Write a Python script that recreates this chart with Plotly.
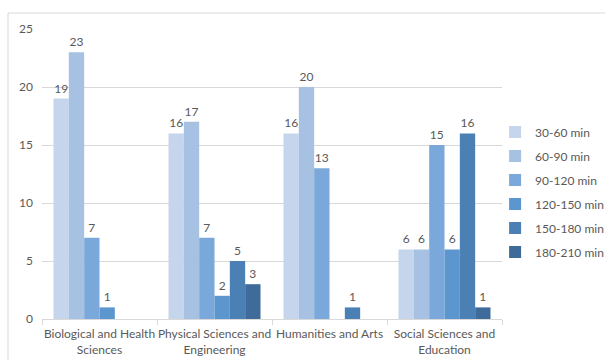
import plotly.graph_objects as go

categories = [
    "Biological and Health<br>Sciences",
    "Physical Sciences and<br>Engineering",
    "Humanities and Arts",
    "Social Sciences and<br>Education",
]
series_names = ["30-60 min", "60-90 min", "90-120 min", "120-150 min", "150-180 min", "180-210 min"]
v_30_60 = [19, 16, 16, 6]
v_60_90 = [23, 17, 20, 6]
v_90_120 = [7, 7, 13, 15]
v_120_150 = [1, 2, 0, 6]
v_150_180 = [0, 5, 1, 16]
v_180_210 = [0, 3, 0, 1]
series_values = [v_30_60, v_60_90, v_90_120, v_120_150, v_150_180, v_180_210]
colors = ["#c5d5eb", "#a7c1e2", "#7ba8da", "#5b96cf", "#4b80b4", "#3e6b99"]

FONT = "Lato"
GREY = "#595959"

fig = go.Figure()
for i, (name, vals, col) in enumerate(zip(series_names, series_values, colors)):
    fig.add_trace(go.Bar(
        x=categories, y=vals, name=name,
        marker=dict(color=col, line=dict(width=0)),
        text=[str(v) if v else "" for v in vals],
        textposition="outside", cliponaxis=False,
        textfont=dict(family=FONT, size=12, color=GREY),
        legendgroup=f"g{i}",
    ))

fig.update_layout(
    width=605, height=360,
    margin=dict(l=42, r=103, t=29, b=41, autoexpand=False),
    paper_bgcolor="white", plot_bgcolor="white",
    barmode="group", bargap=0.2, bargroupgap=0,
    font=dict(family=FONT, size=12, color=GREY),
    showlegend=True,
    legend=dict(
        x=0.985, xanchor="left", y=0.695, yanchor="top",
        font=dict(family=FONT, size=12, color=GREY),
        tracegroupgap=5, itemwidth=30,
        bgcolor="rgba(0,0,0,0)",
    ),
    xaxis=dict(
        automargin=False, tickangle=0,
        showline=True, linecolor="#d9d9d9", linewidth=1,
        ticks="outside", tickson="boundaries", ticklen=5, tickcolor="#d9d9d9",
        tickfont=dict(family=FONT, size=12, color=GREY),
        ticklabelstandoff=4,
        showgrid=False,
    ),
    yaxis=dict(
        automargin=False,
        range=[0, 25], dtick=5, showgrid=True, gridcolor="#d9d9d9", gridwidth=1,
        zeroline=False, showline=False, ticks="",
        tickfont=dict(family=FONT, size=12, color=GREY),
        ticklabelstandoff=8,
    ),
    shapes=[dict(
        type="rect", xref="paper", yref="paper",
        x0=-34/460, x1=1.4, y0=-0.5, y1=(319-13)/290,
        line=dict(color="#d9d9d9", width=1), fillcolor="rgba(0,0,0,0)",
        layer="below",
    )],
)

fig.write_html("out.html")
